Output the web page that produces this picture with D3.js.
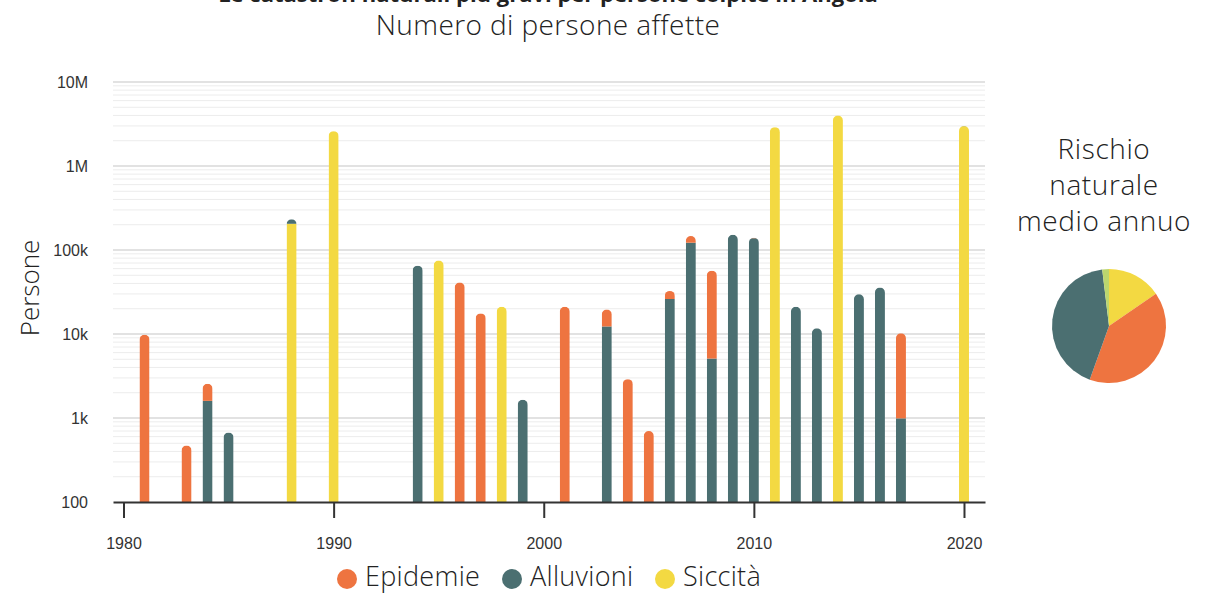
<!DOCTYPE html>
<html lang="it">
<head>
<meta charset="utf-8">
<script src="https://cdn.jsdelivr.net/npm/d3@7"></script>
<style>
  html, body { margin: 0; padding: 0; background: #fff; }
  svg { display: block; }
  .light { font-family: "Open Sans", Lato, sans-serif; font-weight: 300; fill: #222; }
  .tick-lbl { font-family: "Liberation Sans", Arial, sans-serif; font-size: 16px; fill: #333; }
</style>
</head>
<body>
<svg id="chart" width="1223" height="593"></svg>
<script>
// Anni con eventi registrati
const years = [1981, 1983, 1984, 1985, 1988, 1990, 1994, 1995, 1996, 1997, 1998, 1999, 2001, 2003, 2004,
               2005, 2006, 2007, 2008, 2009, 2010, 2011, 2012, 2013, 2014, 2015, 2016, 2017, 2020];
// Persone affette per tipo di evento
const epidemie  = [9700, 370, 950, 0, 0, 0, 0, 0, 41000, 17500, 0, 0, 21000, 7300, 2800,
                   600, 6500, 25000, 51700, 0, 2000, 0, 0, 0, 0, 0, 0, 9200, 0];
const alluvioni = [0, 0, 1500, 570, 27000, 0, 65000, 0, 0, 0, 0, 1550, 0, 12200, 0,
                   0, 26000, 122000, 5000, 152000, 138000, 0, 21000, 11600, 0, 29700, 35600, 890, 20000];
const siccita   = [0, 0, 0, 0, 205000, 2600000, 0, 75000, 0, 0, 21000, 0, 0, 0, 0,
                   0, 0, 0, 0, 0, 0, 2900000, 0, 0, 4000000, 0, 0, 0, 2980000];

const seriesNames = ["Epidemie", "Alluvioni", "Siccità"];
const seriesColors = { "Epidemie": "#ee7440", "Alluvioni": "#4b6f71", "Siccità": "#f3d942" };

const yTickValues = [100, 1e3, 1e4, 1e5, 1e6, 1e7];
const yTickLabels = ["100", "1k", "10k", "100k", "1M", "10M"];
const xTickValues = [1980, 1990, 2000, 2010, 2020];

// Rischio naturale medio annuo (quote percentuali)
const pieLabels = ["Siccità", "Epidemie", "Alluvioni", "Altri"];
const pieValues = [15.4, 40.1, 42.6, 1.9];
const pieColors = ["#f3d942", "#ee7440", "#4b6f71", "#bcd66e"];

const svg = d3.select("#chart");

// Titolo (in gran parte sopra il bordo superiore) e sottotitolo
svg.append("text")
  .attr("x", 548).attr("y", 2)
  .attr("text-anchor", "middle")
  .style("font-family", "'Open Sans', sans-serif").style("font-weight", 700)
  .style("font-size", "22px").style("fill", "#222")
  .text("Le catastrofi naturali più gravi per persone colpite in Angola");

svg.append("text")
  .attr("class", "light")
  .attr("x", 548).attr("y", 35)
  .attr("text-anchor", "middle")
  .style("font-size", "28px")
  .style("letter-spacing", "0.4px")
  .text("Numero di persone affette");

// Scale
const x = d3.scaleLinear().domain([1979.5, 2021]).range([113, 985]);
const y = d3.scaleLog().domain([100, 1e7]).range([502, 82]);

// Griglia: linee principali per decade e linee secondarie intermedie
const grid = svg.append("g");
const minorVals = [];
for (let e = 2; e < 7; e++) {
  for (let m = 2; m <= 9; m++) minorVals.push(m * Math.pow(10, e));
}
grid.selectAll("line.minor").data(minorVals).join("line")
  .attr("class", "minor")
  .attr("x1", 113).attr("x2", 985)
  .attr("y1", d => y(d)).attr("y2", d => y(d))
  .attr("stroke", "#ececec").attr("stroke-width", 1);
grid.selectAll("line.major").data(yTickValues.slice(1)).join("line")
  .attr("class", "major")
  .attr("x1", 113).attr("x2", 985)
  .attr("y1", d => y(d)).attr("y2", d => y(d))
  .attr("stroke", "#e2e2e2").attr("stroke-width", 2);

// Asse Y (solo etichette)
const yAxis = d3.axisLeft(y)
  .tickValues(yTickValues)
  .tickFormat((d, i) => yTickLabels[i])
  .tickSize(0).tickPadding(0);
const gy = svg.append("g").attr("transform", "translate(88,0)").call(yAxis);
gy.select(".domain").remove();
gy.selectAll("text").attr("class", "tick-lbl").attr("dy", "0.35em").style("font-size", "16px");

svg.append("text")
  .attr("class", "light")
  .attr("transform", "translate(39,288) rotate(-90)")
  .attr("text-anchor", "middle")
  .style("font-size", "26px")
  .text("Persone");

// Barre impilate (Siccità in basso, poi Alluvioni, poi Epidemie)
const rows = years.map((yr, i) => ({
  year: yr,
  "Siccità": siccita[i],
  "Alluvioni": alluvioni[i],
  "Epidemie": epidemie[i]
}));
const stackOrder = ["Siccità", "Alluvioni", "Epidemie"];
const barW = 10;
const defs = svg.append("defs");
const bars = svg.append("g");

rows.forEach((r, i) => {
  const cx = x(r.year);
  const x0 = cx - barW / 2;
  let base = 100;
  const segs = [];
  stackOrder.forEach(k => {
    if (r[k] > 0) {
      segs.push({ key: k, lo: base, hi: base + r[k] });
      base += r[k];
    }
  });
  const top = y(base);
  const bottom = y(100);
  const rad = barW / 2;
  const id = "clip" + i;
  defs.append("clipPath").attr("id", id)
    .append("path")
    .attr("d", `M${x0},${bottom} L${x0},${top + rad} A${rad},${rad} 0 0 1 ${x0 + barW},${top + rad} L${x0 + barW},${bottom} Z`);
  const g = bars.append("g").attr("clip-path", `url(#${id})`);
  g.selectAll("rect").data(segs).join("rect")
    .attr("x", x0).attr("width", barW)
    .attr("y", d => y(d.hi))
    .attr("height", d => y(d.lo) - y(d.hi))
    .attr("fill", d => seriesColors[d.key]);
});

// Asse X
const xAxis = d3.axisBottom(x).tickValues(xTickValues).tickFormat(d3.format("d"))
  .tickSize(16).tickSizeOuter(0).tickPadding(18);
const gx = svg.append("g").attr("transform", "translate(0,502)").call(xAxis);
gx.select(".domain").attr("stroke", "#333").attr("stroke-width", 2);
gx.selectAll(".tick line").attr("stroke", "#333").attr("stroke-width", 2);
gx.selectAll("text").attr("class", "tick-lbl").style("font-size", "16px").attr("dy", "0.35em").attr("y", 41);

// Legenda
const legendX = [347, 512, 665];
const legend = svg.append("g");
seriesNames.forEach((n, i) => {
  legend.append("circle")
    .attr("cx", legendX[i]).attr("cy", 579).attr("r", 10)
    .attr("fill", seriesColors[n]);
  legend.append("text")
    .attr("class", "light")
    .attr("x", legendX[i] + 18).attr("y", 586)
    .style("font-size", "27px")
    .style("letter-spacing", "0.3px")
    .text(n);
});

// Torta del rischio medio annuo
const pieTitle = ["Rischio", "naturale", "medio annuo"];
svg.append("g").selectAll("text").data(pieTitle).join("text")
  .attr("class", "light")
  .attr("x", 1104).attr("y", (d, i) => 159 + i * 36)
  .attr("text-anchor", "middle")
  .style("font-size", "28px")
  .style("letter-spacing", "0.6px")
  .text(d => d);

const pie = d3.pie().sort(null).value(d => d)(pieValues);
const arc = d3.arc().innerRadius(0).outerRadius(57);
svg.append("g").attr("transform", "translate(1109,326)")
  .selectAll("path").data(pie).join("path")
  .attr("d", arc)
  .attr("fill", (d, i) => pieColors[i]);
</script>
</body>
</html>
